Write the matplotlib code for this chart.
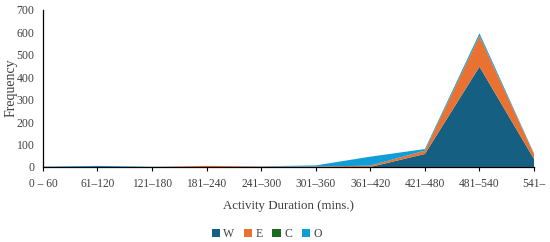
import matplotlib
matplotlib.use('Agg')
import matplotlib.pyplot as plt
from matplotlib.patches import Patch

categories = ['0 – 60', '61–120', '121–180', '181–240', '241–300',
              '301–360', '361–420', '421–480', '481–540', '541–']
W = [0, 0, 0, 0, 0, 0, 0, 58, 447, 35]
E = [1, 0, 0, 5, 2, 2, 6, 15, 137, 22]
C = [0, 0, 0, 0, 0, 0, 0, 0, 0, 0]
O = [1, 5, 1, 0, 1, 5, 40, 7, 12, 3]
names = ['W', 'E', 'C', 'O']
colors = ['#156082', '#E97132', '#196B24', '#0F9ED5']

plt.rcParams['font.family'] = ['Liberation Serif', 'DejaVu Serif']

fig = plt.figure(figsize=(5.5, 2.42), dpi=100)
ax = fig.add_axes([0.078, 0.31, 0.893, 0.649])

x = list(range(len(categories)))
ax.stackplot(x, W, E, C, O, colors=colors)

ax.set_xlim(0, len(categories) - 1)
ax.set_ylim(0, 700)
ax.set_yticks(range(0, 701, 100))
ax.set_xticks(x)
ax.set_xticklabels(categories, fontsize=8.3, color='#404040')
ax.tick_params(axis='y', length=0, labelsize=8.5, labelcolor='#404040', pad=6)
ax.tick_params(axis='x', length=3, width=0.8, pad=5)
for s in ['top', 'right']:
    ax.spines[s].set_visible(False)
ax.spines['left'].set_linewidth(0.9)
ax.spines['bottom'].set_linewidth(0.9)

ax.set_xlabel('Activity Duration (mins.)', fontsize=9.3, color='#404040', labelpad=7)
# y label placed in figure coords so it stays inside the canvas
fig.text(0.02, 0.636, 'Frequency', rotation=90, ha='center', va='center',
         fontsize=10, color='#404040')

handles = [Patch(facecolor=c, label=n) for c, n in zip(colors, names)]
fig.legend(handles=handles, loc='center', bbox_to_anchor=(0.485, 0.032), ncol=4,
           frameon=False, fontsize=8.5, handlelength=0.7, handleheight=0.7,
           handletextpad=0.3, columnspacing=0.8, labelcolor='#404040')

fig.savefig('out.png', dpi=100)
